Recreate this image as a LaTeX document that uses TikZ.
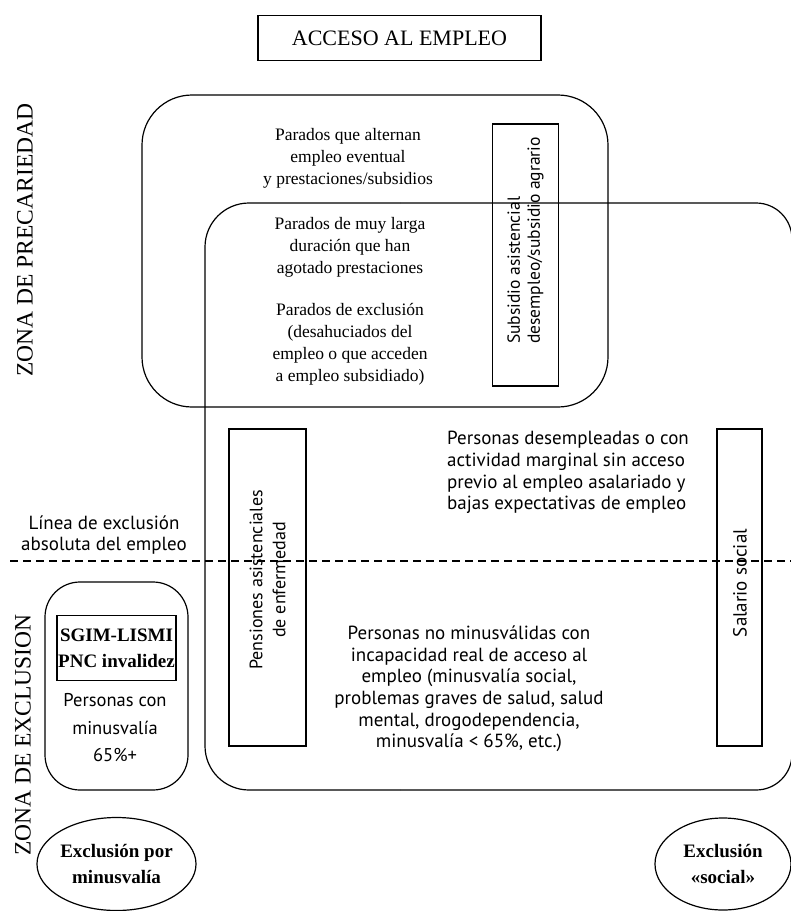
\documentclass[tikz,border=0pt]{standalone}
\usepackage{fontspec}
\setmainfont{Liberation Serif}
\newfontfamily\sansf{PT Sans}
\usetikzlibrary{shapes.geometric}
\tikzset{
  boxline/.style={draw, line width=1.2pt},
  plainbox/.style={boxline, rectangle, inner sep=0pt},
  serift/.style={align=center, inner sep=0pt, font=\fontsize{17.5}{22}\selectfont},
  sanst/.style={inner sep=0pt, font=\sansf\fontsize{19}{21.6}\selectfont},
  zonat/.style={rotate=90, inner sep=0pt, font=\fontsize{23.5}{26}\selectfont},
  boldt/.style={align=center, inner sep=0pt, font=\bfseries\fontsize{19}{26}\selectfont},
}
\begin{document}
\begin{tikzpicture}[x=1pt,y=-1pt]
\useasboundingbox (0,0) rectangle (791,911);

% title
\node[plainbox, minimum width=283, minimum height=45, font=\fontsize{22}{26}\selectfont] (title) at (399.5,38) {ACCESO AL EMPLEO};

% zone labels
\node[zonat] (zprec) at (25,240) {ZONA DE PRECARIEDAD};
\node[zonat] (zexcl) at (23,735) {ZONA DE EXCLUSION};

% upper rounded box
\node[boxline, rectangle, rounded corners=50pt, minimum width=466, minimum height=312] (upper) at (375,251) {};

% big box
\draw[boxline, rounded corners=44pt] (400,790) -| (205,203) -- (400,203);
\draw[boxline, rounded corners=36pt] (400,203) -| (792,790) -- (400,790);

% subsidio box
\node[plainbox, minimum width=66, minimum height=262] (subbox) at (525.5,255) {};
\node[rotate=90, anchor=west, align=left, inner sep=0pt, font=\sansf\fontsize{17.5}{20}\selectfont] (subtxt) at (525.5,344) {Subsidio asistencial\\desempleo/subsidio agrario};

% upper texts
\node[serift] (alt) at (348,158) {Parados que alternan\\empleo eventual\\y prestaciones/subsidios};
\node[serift] (larga) at (350,247) {Parados de muy larga\\duración que han\\agotado prestaciones};
\node[serift] (excl) at (350,344) {Parados de exclusión\\(desahuciados del\\empleo o que acceden\\a empleo subsidiado)};

% pensiones box
\node[plainbox, minimum width=77, minimum height=317] (penbox) at (267.5,587.5) {};
\node[rotate=90, align=center, inner sep=0pt, font=\sansf\fontsize{18}{23}\selectfont] (pentxt) at (267.5,580) {Pensiones asistenciales\\de enfermedad};

% salario box
\node[plainbox, minimum width=45, minimum height=317] (salbox) at (739.5,587.5) {};
\node[rotate=90, inner sep=0pt, font=\sansf\fontsize{19}{21}\selectfont] (saltxt) at (740,583) {Salario social};

% dashed line
\coordinate (dl) at (10,561);
\coordinate (dr) at (791,561);
\draw[line width=1.1pt, dash pattern=on 8pt off 5pt] (dl) -- (dr);
\node[sanst, align=center] (linea) at (104,535) {Línea de exclusión\\absoluta del empleo};

% middle texts
\node[sanst, align=left, anchor=west] (desemp) at (447,472.5) {Personas desempleadas o con\\actividad marginal sin acceso\\previo al empleo asalariado y\\bajas expectativas de empleo};
\node[sanst, align=center] (nominus) at (469,689) {Personas no minusválidas con\\incapacidad real de acceso al\\empleo (minusvalía social,\\problemas graves de salud, salud\\mental, drogodependencia,\\minusvalía < 65\%, etc.)};

% left small box
\node[boxline, rectangle, rounded corners=35pt, minimum width=143, minimum height=208] (leftbox) at (116.5,686) {};
\node[boxline, rectangle, inner sep=1pt, minimum width=119, minimum height=65, align=center, font=\bfseries\fontsize{19}{26}\selectfont] (sgim) at (116.5,648) {SGIM-LISMI\\PNC invalidez};
\node[inner sep=0pt, align=center, font=\sansf\fontsize{18.5}{27.5}\selectfont] (pcm) at (115,728) {Personas con\\minusvalía\\65\%+};

% ellipses
\node[boxline, ellipse, minimum width=143, minimum height=93, boldt] (emin) at (116.5,864) {Exclusión por\\minusvalía};
\node[boxline, ellipse, minimum width=136, minimum height=92, boldt] (esoc) at (723,864) {Exclusión\\«social»};
\end{tikzpicture}
\end{document}
